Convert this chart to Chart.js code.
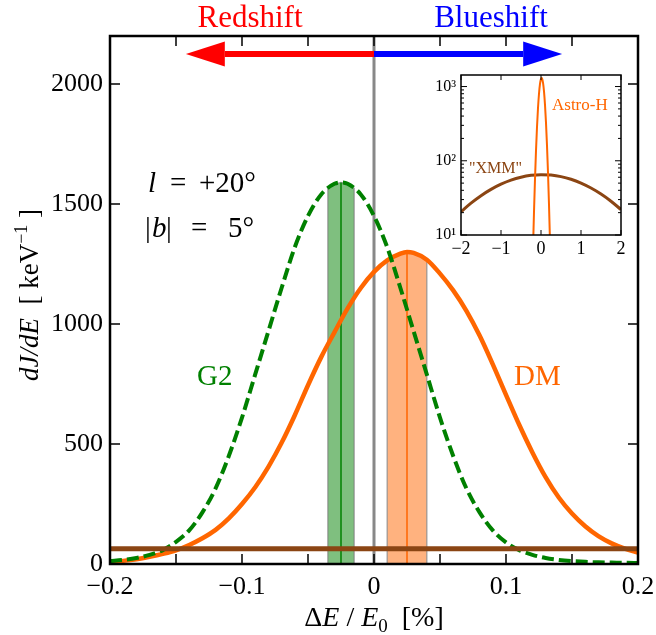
<!DOCTYPE html>
<html>
<head>
<meta charset="utf-8">
<script src="https://cdn.jsdelivr.net/npm/chart.js@4.4.1/dist/chart.umd.min.js"></script>
<style>
  html, body { margin: 0; padding: 0; background: #fff; }
  #wrap { position: relative; width: 656px; height: 635px; }
  #main { position: absolute; left: 0; top: 0; width: 656px; height: 635px; }
  #inset { position: absolute; left: 405px; top: 62px; width: 235px; height: 200px; }
</style>
</head>
<body>
<div id="wrap">
  <div id="main"><canvas id="mainChart"></canvas></div>
  <div id="inset"><canvas id="insetChart"></canvas></div>
</div>
<script>
// ---- data ----
// main panel: dJ/dE vs dE/E0 [%]
var g2X = [-0.2, -0.19, -0.18, -0.17, -0.16, -0.15, -0.14, -0.13, -0.12, -0.11, -0.1, -0.09, -0.08, -0.07, -0.06, -0.05, -0.04, -0.03, -0.025, -0.02, -0.01,
           0, 0.01, 0.02, 0.03, 0.04, 0.05, 0.06, 0.07, 0.08, 0.09, 0.1, 0.11, 0.12, 0.13, 0.14, 0.15, 0.16, 0.17, 0.18, 0.19, 0.2];
var g2Values = [12, 17, 25, 38, 58, 92, 140, 215, 315, 450, 610, 790, 970, 1150, 1320, 1450, 1540, 1584, 1590, 1584, 1540,
                1450, 1320, 1150, 970, 790, 610, 450, 315, 215, 140, 90, 58, 38, 25, 17, 12, 9, 7, 6, 5, 4];

var dmX = [-0.2, -0.19, -0.18, -0.17, -0.16, -0.15, -0.14, -0.13, -0.12, -0.11, -0.1, -0.09, -0.08, -0.07, -0.06, -0.05, -0.04, -0.03, -0.02, -0.01,
           0, 0.01, 0.02, 0.025, 0.03, 0.04, 0.05, 0.06, 0.07, 0.08, 0.09, 0.1, 0.11, 0.12, 0.13, 0.14, 0.15, 0.16, 0.17, 0.18, 0.19, 0.2];
var dmValues = [8, 13, 20, 30, 42, 57, 79, 107, 142, 190, 250, 320, 405, 505, 620, 745, 862, 965, 1065, 1150,
                1217, 1265, 1293, 1300, 1296, 1268, 1210, 1140, 1055, 952, 832, 705, 580, 465, 362, 277, 210, 157, 116, 86, 64, 48];

var xmmMainX = [-0.2, 0.2];
var xmmMainValues = [64, 64];

// line centroids and their error bands
var g2Centre = -0.025, g2Peak = 1590;
var g2BandX = [-0.035, -0.035, -0.03, -0.025, -0.02, -0.015, -0.015];
var g2BandY = [0, 1565, 1584, 1590, 1584, 1565, 0];
var dmCentre = 0.025, dmPeak = 1300;
var dmBandX = [0.01, 0.01, 0.02, 0.025, 0.03, 0.04, 0.04];
var dmBandY = [0, 1265, 1293, 1300, 1296, 1268, 0];

var zeroX = [0, 0];
var zeroY = [0, 2200];

// tick values
var xTicks = [-0.2, -0.15, -0.1, -0.05, 0, 0.05, 0.1, 0.15, 0.2];
var xLabelled = [-0.2, -0.1, 0, 0.1, 0.2];
var yTicks = [0, 500, 1000, 1500, 2000];

// inset: log scale, wide range
var astroX = [-0.25, -0.225, -0.2, -0.175, -0.15, -0.125, -0.1, -0.075, -0.05, -0.025, 0, 0.015, 0.025, 0.05, 0.075, 0.1, 0.125, 0.15, 0.175, 0.2, 0.225, 0.25, 0.275];
var astroValues = [0.4, 1.8, 6.4, 20.6, 57, 137, 285, 513, 800, 1082, 1267, 1300, 1285, 1130, 860, 567, 324, 160, 69, 25.6, 8.2, 2.3, 0.5];
var xmmX = [-2, -1.75, -1.5, -1.25, -1, -0.75, -0.5, -0.25, 0, 0.25, 0.5, 0.75, 1, 1.25, 1.5, 1.75, 2];
var xmmValues = [20.6, 26.9, 33.9, 41.2, 48.4, 54.9, 60.1, 63.6, 65, 64.1, 61.1, 56.3, 50, 42.9, 35.6, 28.5, 22];
var insetXTicks = [-2, -1, 0, 1, 2];
var insetYTicks = [10, 20, 30, 40, 50, 60, 70, 80, 90, 100, 200, 300, 400, 500, 600, 700, 800, 900, 1000];

// arrows above the curves
var arrowY = 2125, arrowHeadBase = 0.113, arrowTip = 0.1425;

// ---- style ----
var serif = '"Liberation Serif", "Times New Roman", serif';
var orange = '#ff6600', green = '#008000', brown = '#8b4513';
Chart.defaults.font.family = serif;
Chart.defaults.color = '#000';

function toPoints(xs, ys){
  return xs.map(function(x, i){ return {x: x, y: ys[i]}; });
}

function toTicks(vals){
  return vals.map(function(v){ return {value: v}; });
}

function fmt(v){
  var s = (Math.round(v * 10) / 10).toString();
  return s.replace('-', '\u2212');
}

// draw text pieces one after another, mixed fonts
function drawRuns(ctx, runs, x, y, centred){
  var total = 0;
  runs.forEach(function(r){ ctx.font = r.font; r.w = ctx.measureText(r.t).width; total += r.w; });
  var cx = centred ? x - total / 2 : x;
  runs.forEach(function(r){
    ctx.font = r.font;
    ctx.fillText(r.t, cx, y + (r.dy || 0));
    cx += r.w;
  });
}

// inward ticks + frame for the main panel
var mainFrame = {
  id: 'mainFrame',
  afterDraw: function(chart){
    var ctx = chart.ctx, a = chart.chartArea;
    var xs = chart.scales.x, ys = chart.scales.y;
    ctx.save();
    ctx.strokeStyle = '#000';
    ctx.lineWidth = 1.5;
    ctx.beginPath();
    xTicks.forEach(function(v){
      var p = xs.getPixelForValue(v);
      ctx.moveTo(p, a.bottom); ctx.lineTo(p, a.bottom - 10);
      ctx.moveTo(p, a.top); ctx.lineTo(p, a.top + 10);
    });
    yTicks.forEach(function(v){
      var p = ys.getPixelForValue(v);
      ctx.moveTo(a.left, p); ctx.lineTo(a.left + 10, p);
      ctx.moveTo(a.right, p); ctx.lineTo(a.right - 10, p);
    });
    ctx.stroke();
    ctx.lineWidth = 2.5;
    ctx.strokeRect(a.left, a.top, a.right - a.left, a.bottom - a.top);
    ctx.restore();
  }
};

// red/blue shift arrows, labels, axis titles
var mainText = {
  id: 'mainText',
  afterDatasetsDraw: function(chart){
    var ctx = chart.ctx;
    var xs = chart.scales.x, ys = chart.scales.y;
    var y0 = ys.getPixelForValue(arrowY);
    var x0 = xs.getPixelForValue(0);
    [[-1, '#ff0000'], [1, '#0000ff']].forEach(function(d){
      var hb = xs.getPixelForValue(d[0] * arrowHeadBase);
      var tip = xs.getPixelForValue(d[0] * arrowTip);
      ctx.save();
      ctx.fillStyle = d[1];
      ctx.fillRect(Math.min(x0, hb), y0 - 3, Math.abs(hb - x0), 6);
      ctx.beginPath();
      ctx.moveTo(tip, y0);
      ctx.lineTo(hb, y0 - 12.5);
      ctx.lineTo(hb, y0 + 12.5);
      ctx.closePath();
      ctx.fill();
      ctx.restore();
    });
  },
  afterDraw: function(chart){
    var ctx = chart.ctx;
    ctx.save();
    ctx.textBaseline = 'alphabetic';
    ctx.textAlign = 'center';
    ctx.font = '31px ' + serif;
    ctx.fillStyle = '#ff0000';
    ctx.fillText('Redshift', 250, 27);
    ctx.fillStyle = '#0000ff';
    ctx.fillText('Blueshift', 491, 27);

    ctx.textAlign = 'left';
    ctx.fillStyle = '#000';
    var up = '29px ' + serif, it = 'italic 29px ' + serif;
    ctx.font = it; ctx.fillText('l', 148, 192);
    ctx.font = up; ctx.fillText('=', 170, 192); ctx.fillText('+20\u00b0', 199, 192);
    ctx.font = up; ctx.fillText('|', 145, 237);
    ctx.font = it; ctx.fillText('b', 152, 237);
    ctx.font = up; ctx.fillText('|', 166, 237); ctx.fillText('=', 191, 237); ctx.fillText('5\u00b0', 228, 237);

    ctx.font = '29px ' + serif;
    ctx.fillStyle = green;
    ctx.fillText('G2', 197, 385);
    ctx.fillStyle = orange;
    ctx.fillText('DM', 514, 385);

    // x title
    ctx.fillStyle = '#000';
    drawRuns(ctx, [
      {t: '\u0394', font: '28px ' + serif},
      {t: 'E', font: 'italic 28px ' + serif},
      {t: ' / ', font: '28px ' + serif},
      {t: 'E', font: 'italic 28px ' + serif},
      {t: '0', font: '19px ' + serif, dy: 6},
      {t: '  [%]', font: '28px ' + serif}
    ], 374, 626, true);

    // y title
    ctx.translate(38, 295);
    ctx.rotate(-Math.PI / 2);
    drawRuns(ctx, [
      {t: 'dJ/dE', font: 'italic 27px ' + serif},
      {t: '  [ keV', font: '27px ' + serif},
      {t: '\u22121', font: '18px ' + serif, dy: -11},
      {t: ' ]', font: '27px ' + serif}
    ], 0, 0, true);
    ctx.restore();
  }
};

new Chart(document.getElementById('mainChart'), {
  type: 'line',
  data: {
    datasets: [
      {label: 'XMM', data: toPoints(xmmMainX, xmmMainValues), borderColor: brown, borderWidth: 5},
      {label: 'G2', data: toPoints(g2X, g2Values), borderColor: green, borderWidth: 4, borderDash: [12, 5], cubicInterpolationMode: 'monotone'},
      {label: 'DM', data: toPoints(dmX, dmValues), borderColor: orange, borderWidth: 4.5, cubicInterpolationMode: 'monotone'},
      {label: 'zero', data: toPoints(zeroX, zeroY), borderColor: '#888888', borderWidth: 3},
      {label: 'G2 centre', data: toPoints([g2Centre, g2Centre], [0, g2Peak]), borderColor: green, borderWidth: 1.5},
      {label: 'DM centre', data: toPoints([dmCentre, dmCentre], [0, dmPeak]), borderColor: orange, borderWidth: 1.5},
      {label: 'G2 band', data: toPoints(g2BandX, g2BandY), borderColor: 'rgba(120,120,120,0.6)', borderWidth: 1.5,
       backgroundColor: 'rgba(0,128,0,0.5)', fill: 'origin'},
      {label: 'DM band', data: toPoints(dmBandX, dmBandY), borderColor: 'rgba(120,120,120,0.6)', borderWidth: 1.5,
       backgroundColor: 'rgba(255,102,0,0.5)', fill: 'origin'}
    ]
  },
  options: {
    responsive: true,
    maintainAspectRatio: false,
    animation: false,
    elements: { point: { radius: 0 }, line: { fill: false, tension: 0 } },
    plugins: { legend: { display: false }, tooltip: { enabled: false } },
    layout: { padding: { top: 36, right: 18, left: 0, bottom: 0 } },
    scales: {
      x: {
        type: 'linear', min: -0.2, max: 0.2,
        grid: { display: false, drawTicks: false },
        border: { display: false },
        afterBuildTicks: function(s){ s.ticks = toTicks(xLabelled); },
        ticks: {
          padding: 8, autoSkip: false, maxRotation: 0,
          font: { size: 26 },
          callback: function(v){ return fmt(v); }
        },
        afterFit: function(s){ s.height = 71; s.paddingLeft = 0; s.paddingRight = 0; }
      },
      y: {
        type: 'linear', min: 0, max: 2200,
        grid: { display: false, drawTicks: false },
        border: { display: false },
        afterBuildTicks: function(s){ s.ticks = toTicks(yTicks); },
        ticks: {
          padding: 7, autoSkip: false,
          font: { size: 26 },
          callback: function(v){ return String(v); }
        },
        afterFit: function(s){ s.width = 110; s.paddingTop = 0; s.paddingBottom = 0; }
      }
    }
  },
  plugins: [mainText, mainFrame]
});

// ---- inset ----
var sup = {1: '\u00b9', 2: '\u00b2', 3: '\u00b3'};
var insetFrame = {
  id: 'insetFrame',
  beforeDraw: function(chart){
    var ctx = chart.ctx, a = chart.chartArea;
    ctx.save();
    ctx.fillStyle = '#fff';
    ctx.fillRect(a.left, a.top, a.right - a.left, a.bottom - a.top);
    ctx.restore();
  },
  afterDraw: function(chart){
    var ctx = chart.ctx, a = chart.chartArea;
    var xs = chart.scales.x, ys = chart.scales.y;
    ctx.save();
    ctx.strokeStyle = '#000';
    ctx.lineWidth = 1;
    ctx.beginPath();
    insetXTicks.forEach(function(v){
      var p = xs.getPixelForValue(v);
      ctx.moveTo(p, a.bottom); ctx.lineTo(p, a.bottom - 5);
      ctx.moveTo(p, a.top); ctx.lineTo(p, a.top + 5);
    });
    insetYTicks.forEach(function(v){
      var e = Math.log10(v);
      var len = Math.abs(e - Math.round(e)) < 1e-6 ? 6 : 3;
      var p = ys.getPixelForValue(v);
      ctx.moveTo(a.left, p); ctx.lineTo(a.left + len, p);
      ctx.moveTo(a.right, p); ctx.lineTo(a.right - len, p);
    });
    ctx.stroke();
    ctx.lineWidth = 1.5;
    ctx.strokeRect(a.left, a.top, a.right - a.left, a.bottom - a.top);

    ctx.font = '17px ' + serif;
    ctx.fillStyle = orange;
    ctx.fillText('Astro-H', 147, 48);
    ctx.font = '16px ' + serif;
    ctx.fillStyle = brown;
    ctx.fillText('"XMM"', 64, 111);
    ctx.restore();
  }
};

new Chart(document.getElementById('insetChart'), {
  type: 'line',
  data: {
    datasets: [
      {label: 'Astro-H', data: toPoints(astroX, astroValues), borderColor: orange, borderWidth: 2, cubicInterpolationMode: 'monotone'},
      {label: 'XMM', data: toPoints(xmmX, xmmValues), borderColor: brown, borderWidth: 3, cubicInterpolationMode: 'monotone'}
    ]
  },
  options: {
    responsive: true,
    maintainAspectRatio: false,
    animation: false,
    elements: { point: { radius: 0 }, line: { fill: false } },
    plugins: { legend: { display: false }, tooltip: { enabled: false } },
    layout: { padding: { top: 13, right: 19, left: 0, bottom: 0 } },
    scales: {
      x: {
        type: 'linear', min: -2, max: 2,
        grid: { display: false, drawTicks: false },
        border: { display: false },
        afterBuildTicks: function(s){ s.ticks = toTicks(insetXTicks); },
        ticks: {
          padding: 3, autoSkip: false, maxRotation: 0,
          font: { size: 18 },
          callback: function(v){ return String(v).replace('-', '\u2212'); }
        },
        afterFit: function(s){ s.height = 27; s.paddingLeft = 0; s.paddingRight = 0; }
      },
      y: {
        type: 'logarithmic', min: 10, max: 1430,
        grid: { display: false, drawTicks: false },
        border: { display: false },
        afterBuildTicks: function(s){ s.ticks = toTicks([10, 100, 1000]); },
        ticks: {
          padding: 5, autoSkip: false,
          font: { size: 16 },
          callback: function(v){ return '10' + sup[Math.round(Math.log10(v))]; }
        },
        afterFit: function(s){ s.width = 56; s.paddingTop = 0; s.paddingBottom = 0; }
      }
    }
  },
  plugins: [insetFrame]
});
</script>
</body>
</html>
